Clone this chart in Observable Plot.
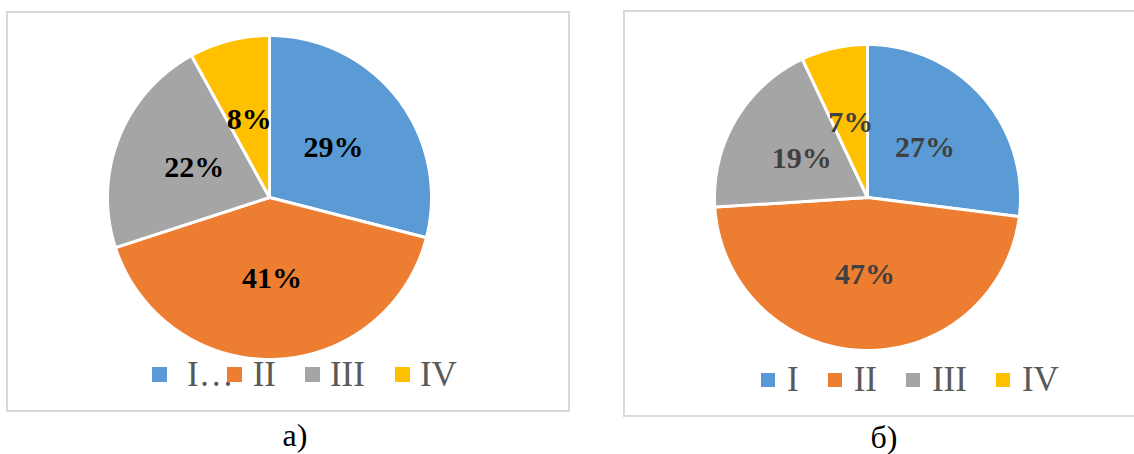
<!DOCTYPE html>
<html>
<head>
<meta charset="utf-8">
<script src="https://cdn.jsdelivr.net/npm/d3@7"></script>
<script src="https://cdn.jsdelivr.net/npm/@observablehq/plot@0.6"></script>
<style>
  html, body { margin: 0; padding: 0; background: #fff; }
  body { width: 1134px; height: 454px; overflow: hidden; position: relative;
         font-family: "Liberation Serif", "Times New Roman", serif; }
  .box { position: absolute; border: 2px solid #d9d9d9; box-sizing: border-box; }
  .pie { position: absolute; }
  .legend { position: absolute; display: flex; align-items: center; height: 35px;
            font-size: 35px; line-height: 1; color: #595959; white-space: nowrap; }
  .legend .sw { flex: none; }
  .caption { position: absolute; width: 100px; text-align: center; font-size: 32px;
             line-height: 1; color: #000; }
</style>
</head>
<body>
<div id="root"></div>
<script>
// ---- data ----
const categories = ["I", "II", "III", "IV"];
const colors = ["#5B9BD5", "#ED7D31", "#A5A5A5", "#FFC000"];
const valuesA = [29, 41, 22, 8];
const valuesB = [27, 47, 19, 7];
const legendLabelsA = ["I…", "II", "III", "IV"];
const legendLabelsB = ["I", "II", "III", "IV"];
const captions = ["а)", "б)"];

// ---- layout ----
const panels = [
  { values: valuesA, labels: legendLabelsA, caption: captions[0], labelColor: "#000",
    box: { left: 6, top: 11, width: 564, height: 401 },
    cx: 269, cy: 197, r: 162,
    legend: { left: 152, top: 357, sw: 15, gap: [20, 11, 10, 10], after: [-7, 29, 30, 0] },
    cap: { cx: 295, top: 419 } },
  { values: valuesB, labels: legendLabelsB, caption: captions[1], labelColor: "#404040",
    box: { left: 623, top: 10, width: 540, height: 407 },
    cx: 867, cy: 197, r: 153,
    legend: { left: 761, top: 362, sw: 14, gap: [12, 12, 12, 12], after: [29, 29, 29, 0] },
    cap: { cx: 884, top: 421 } }
];

const root = document.getElementById("root");
const half = 172;

for (const p of panels) {
  const box = document.createElement("div");
  box.className = "box";
  Object.assign(box.style, { left: p.box.left + "px", top: p.box.top + "px",
    width: p.box.width + "px", height: p.box.height + "px" });
  document.body.appendChild(box);

  // slice geometry from data via d3.pie (clockwise from 12 o'clock)
  const table = categories.map((c, i) => ({ cat: c, value: p.values[i] }));
  const arcs = d3.pie().sort(null).value(d => d.value)(table);
  const pts = [];
  const labels = [];
  for (const a of arcs) {
    pts.push({ cat: a.data.cat, x: 0, y: 0 });
    const n = Math.max(2, Math.ceil((a.endAngle - a.startAngle) / 0.01));
    for (let k = 0; k <= n; k++) {
      const t = a.startAngle + (a.endAngle - a.startAngle) * k / n;
      pts.push({ cat: a.data.cat, x: Math.sin(t), y: Math.cos(t) });
    }
    const m = (a.startAngle + a.endAngle) / 2;
    labels.push({ x: 0.5 * Math.sin(m), y: 0.5 * Math.cos(m), text: a.data.value + "%" });
  }
  const ext = half / p.r;
  const chart = Plot.plot({
    width: 2 * half, height: 2 * half,
    margin: 0,
    style: { background: "transparent", overflow: "visible" },
    x: { domain: [-ext, ext], axis: null },
    y: { domain: [-ext, ext], axis: null },
    color: { domain: categories, range: colors },
    marks: [
      Plot.line(pts, { x: "x", y: "y", z: "cat", fill: "cat", stroke: "white",
        strokeWidth: 3, strokeLinejoin: "round", curve: "linear-closed" }),
      Plot.text(labels, { x: "x", y: "y", text: "text", fill: p.labelColor,
        fontSize: 30, fontWeight: "bold", fontFamily: "Liberation Serif, Times New Roman, serif" })
    ]
  });
  chart.classList.add("pie");
  Object.assign(chart.style, { left: (p.cx - half) + "px", top: (p.cy - half) + "px" });
  document.body.appendChild(chart);

  // legend
  const lg = document.createElement("div");
  lg.className = "legend";
  Object.assign(lg.style, { left: p.legend.left + "px", top: p.legend.top + "px" });
  categories.forEach((c, i) => {
    const sw = document.createElement("span");
    sw.className = "sw";
    Object.assign(sw.style, { width: p.legend.sw + "px", height: p.legend.sw + "px",
      background: colors[i], position: "relative", zIndex: 2 });
    const tx = document.createElement("span");
    tx.textContent = p.labels[i];
    Object.assign(tx.style, { marginLeft: p.legend.gap[i] + "px", marginRight: p.legend.after[i] + "px" });
    lg.appendChild(sw);
    lg.appendChild(tx);
  });
  document.body.appendChild(lg);

  // caption
  const cap = document.createElement("div");
  cap.className = "caption";
  cap.textContent = p.caption;
  Object.assign(cap.style, { left: (p.cap.cx - 50) + "px", top: p.cap.top + "px" });
  document.body.appendChild(cap);
}
</script>
</body>
</html>
